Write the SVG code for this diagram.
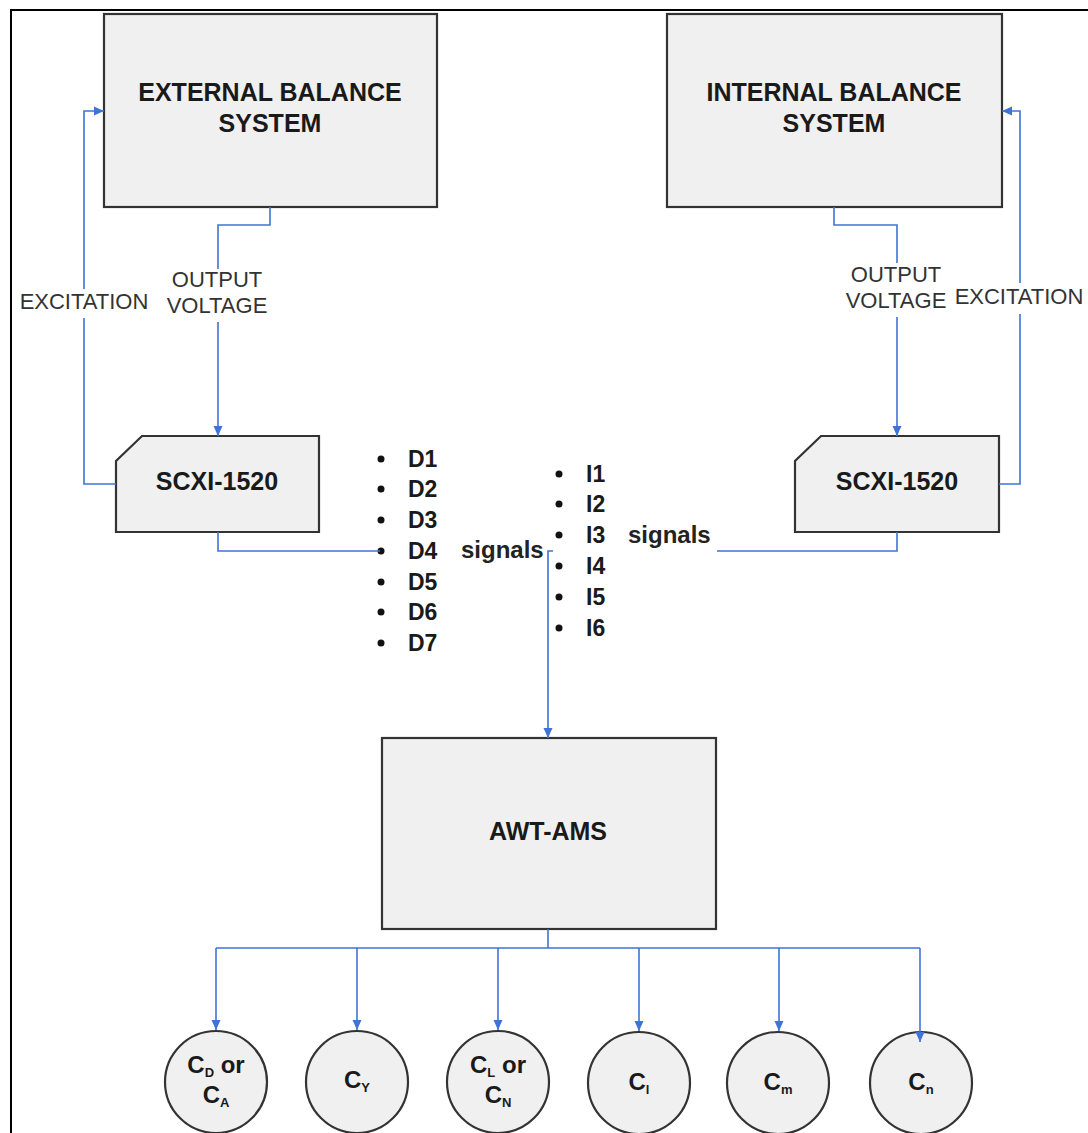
<svg xmlns="http://www.w3.org/2000/svg" width="1088" height="1133" viewBox="0 0 1088 1133">
  <style>
    .box { fill: #f0f0f0; stroke: #333333; stroke-width: 2.2; }
    .title { font-family: "Liberation Sans", Arial, sans-serif; font-weight: bold; font-size: 25px; fill: #1a1a1a; text-anchor: middle; }
    .coef { font-family: "Liberation Sans", Arial, sans-serif; font-weight: bold; font-size: 24px; fill: #1a1a1a; text-anchor: middle; }
    .lbl { font-family: "Liberation Sans", Arial, sans-serif; font-size: 22px; fill: #333333; text-anchor: middle; }
    .item { font-family: "Liberation Sans", Arial, sans-serif; font-weight: bold; font-size: 23px; fill: #1a1a1a; }
    .sig { font-family: "Liberation Sans", Arial, sans-serif; font-weight: bold; font-size: 24px; fill: #222222; }
    .wire { fill: none; stroke: #3f73d6; stroke-width: 1.6; }
    .arrow { fill: none; stroke: #3f73d6; stroke-width: 1.6; marker-end: url(#tip); }
    .dot { fill: #111111; }
    .sub { font-size: 13px; }
  </style>
  <defs>
    <marker id="tip" markerUnits="userSpaceOnUse" markerWidth="10" markerHeight="10" viewBox="0 0 10 10" refX="10" refY="5" orient="auto">
      <path d="M0,0.5 L10,5 L0,9.5 Z" fill="#3f73d6"/>
    </marker>
  </defs>

  <rect width="1088" height="1133" fill="#ffffff"/>
  <!-- page frame -->
  <path d="M11,1133 V10 H1088" fill="none" stroke="#000000" stroke-width="2"/>

  <g id="external-balance">
    <rect class="box" x="104" y="14" width="333" height="193"/>
    <text class="title" x="270" y="101">EXTERNAL BALANCE</text>
    <text class="title" x="270" y="132">SYSTEM</text>
  </g>

  <g id="internal-balance">
    <rect class="box" x="667" y="14" width="335" height="193"/>
    <text class="title" x="834" y="101">INTERNAL BALANCE</text>
    <text class="title" x="834" y="132">SYSTEM</text>
  </g>

  <g id="scxi-left">
    <path class="box" d="M142,436 H319 V532 H116 V461 Z"/>
    <text class="title" x="217" y="490">SCXI-1520</text>
  </g>

  <g id="scxi-right">
    <path class="box" d="M821,436 H999 V532 H795 V461 Z"/>
    <text class="title" x="897" y="490">SCXI-1520</text>
  </g>

  <!-- external balance channels -->
  <g id="d-signals">
    <circle class="dot" cx="381" cy="459" r="3.5"/>
    <circle class="dot" cx="381" cy="489" r="3.5"/>
    <circle class="dot" cx="381" cy="520" r="3.5"/>
    <circle class="dot" cx="381" cy="551" r="3.5"/>
    <circle class="dot" cx="381" cy="582" r="3.5"/>
    <circle class="dot" cx="381" cy="612" r="3.5"/>
    <circle class="dot" cx="381" cy="643" r="3.5"/>
    <text class="item" x="408" y="467">D1</text>
    <text class="item" x="408" y="497">D2</text>
    <text class="item" x="408" y="528">D3</text>
    <text class="item" x="408" y="559">D4</text>
    <text class="item" x="408" y="590">D5</text>
    <text class="item" x="408" y="620">D6</text>
    <text class="item" x="408" y="651">D7</text>
    <text class="sig" x="461" y="558">signals</text>
  </g>

  <!-- internal balance channels -->
  <g id="i-signals">
    <circle class="dot" cx="559" cy="474" r="3.5"/>
    <circle class="dot" cx="559" cy="504" r="3.5"/>
    <circle class="dot" cx="559" cy="535" r="3.5"/>
    <circle class="dot" cx="559" cy="566" r="3.5"/>
    <circle class="dot" cx="559" cy="597" r="3.5"/>
    <circle class="dot" cx="559" cy="628" r="3.5"/>
    <text class="item" x="586" y="482">I1</text>
    <text class="item" x="586" y="512">I2</text>
    <text class="item" x="586" y="543">I3</text>
    <text class="item" x="586" y="574">I4</text>
    <text class="item" x="586" y="605">I5</text>
    <text class="item" x="586" y="636">I6</text>
    <text class="sig" x="628" y="543">signals</text>
  </g>

  <g id="awt-ams">
    <rect class="box" x="382" y="738" width="334" height="191"/>
    <text class="title" x="548" y="840">AWT-AMS</text>
  </g>

  <!-- coefficient outputs -->
  <g id="coef-cd">
    <circle class="box" cx="216" cy="1082" r="51"/>
    <text class="coef" x="216" y="1073">C<tspan class="sub" dy="4">D</tspan><tspan dy="-4"> or</tspan></text>
    <text class="coef" x="216" y="1103">C<tspan class="sub" dy="4">A</tspan></text>
  </g>
  <g id="coef-cy">
    <circle class="box" cx="357" cy="1082" r="51"/>
    <text class="coef" x="357" y="1088">C<tspan class="sub" dy="4">Y</tspan></text>
  </g>
  <g id="coef-cl">
    <circle class="box" cx="498" cy="1082" r="51"/>
    <text class="coef" x="498" y="1073">C<tspan class="sub" dy="4">L</tspan><tspan dy="-4"> or</tspan></text>
    <text class="coef" x="498" y="1103">C<tspan class="sub" dy="4">N</tspan></text>
  </g>
  <g id="coef-c-l">
    <circle class="box" cx="639" cy="1083" r="51"/>
    <text class="coef" x="639" y="1090">C<tspan class="sub" dy="4">l</tspan></text>
  </g>
  <g id="coef-cm">
    <circle class="box" cx="778" cy="1083" r="51"/>
    <text class="coef" x="778" y="1090">C<tspan class="sub" dy="4">m</tspan></text>
  </g>
  <g id="coef-cn">
    <circle class="box" cx="921" cy="1083" r="51"/>
    <text class="coef" x="921" y="1090">C<tspan class="sub" dy="4">n</tspan></text>
  </g>

  <g id="connectors">
    <!-- external balance side -->
    <path class="wire" d="M116,484 H84 V318"/>
    <path class="arrow" d="M84,289 V111 H104"/>
    <path class="wire" d="M270,207 V225 H218 V269"/>
    <path class="arrow" d="M218,322 V436"/>
    <path class="wire" d="M218,532 V551 H380"/>
    <!-- internal balance side -->
    <path class="wire" d="M999,484 H1020 V314"/>
    <path class="arrow" d="M1020,283 V111 H1002"/>
    <path class="wire" d="M834,207 V225 H897 V263"/>
    <path class="arrow" d="M897,317 V436"/>
    <path class="wire" d="M897,532 V551 H717"/>
    <!-- signals into AWT-AMS -->
    <path class="arrow" d="M553,551 H548 V738"/>
    <!-- AWT-AMS outputs -->
    <path class="wire" d="M548,929 V948 M216,948 H920"/>
    <path class="arrow" d="M216,948 V1030"/>
    <path class="arrow" d="M357,948 V1030"/>
    <path class="arrow" d="M498,948 V1030"/>
    <path class="arrow" d="M639,948 V1031"/>
    <path class="arrow" d="M779,948 V1031"/>
    <path class="arrow" d="M920,948 V1042"/>
  </g>

  <!-- connector labels -->
  <g id="labels">
    <text class="lbl" x="84" y="309">EXCITATION</text>
    <text class="lbl" x="217" y="287">OUTPUT</text>
    <text class="lbl" x="217" y="313">VOLTAGE</text>
    <text class="lbl" x="896" y="282">OUTPUT</text>
    <text class="lbl" x="896" y="308">VOLTAGE</text>
    <text class="lbl" x="1019" y="304">EXCITATION</text>
  </g>
</svg>
